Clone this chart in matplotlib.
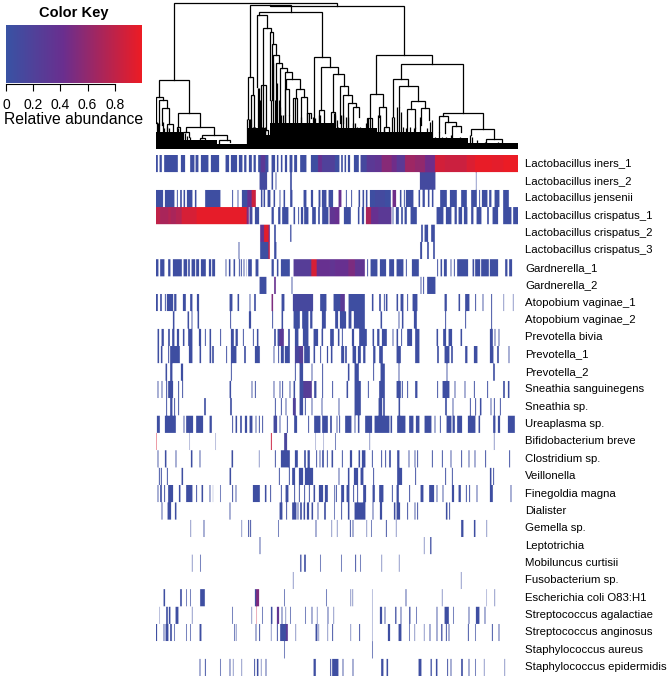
import numpy as np
import matplotlib
matplotlib.use("Agg")
import matplotlib.pyplot as plt
from matplotlib.colors import LinearSegmentedColormap

plt.rcParams['font.family'] = ['Liberation Sans', 'DejaVu Sans']

# --- Row labels ---
taxa = ["Lactobacillus iners_1", "Lactobacillus iners_2", "Lactobacillus jensenii",
        "Lactobacillus crispatus_1", "Lactobacillus crispatus_2", "Lactobacillus crispatus_3",
        "Gardnerella_1", "Gardnerella_2", "Atopobium vaginae_1", "Atopobium vaginae_2",
        "Prevotella bivia", "Prevotella_1", "Prevotella_2", "Sneathia sanguinegens",
        "Sneathia sp.", "Ureaplasma sp.", "Bifidobacterium breve", "Clostridium sp.",
        "Veillonella", "Finegoldia magna", "Dialister", "Gemella sp.", "Leptotrichia",
        "Mobiluncus curtisii", "Fusobacterium sp.", "Escherichia coli O83:H1",
        "Streptococcus agalactiae", "Streptococcus anginosus", "Staphylococcus aureus",
        "Staphylococcus epidermidis"]

# --- Abundance runs per taxon, (first sample, last sample[, abundance]) ---
# two lists: left half of the sample order, right half
low = 0.05
half = 555

iners_1 = ([(18,24),(28,36),(42,84),(92,106),(120,134),(136,146),(152,176),(182,208),(226,238),(242,262),(266,278),(282,290),(296,306),(310,318),(324,332),(332,346,.3),(346,356),(364,376),(380,386),(392,398),(404,412),(418,428),(432,442),(450,470),(482,504),(504,516,.4),(516,555,.2)],
           [(0,14),(18,24),(28,34),(38,46),(56,72),(76,95,.12),(95,120,.3),(120,140,.35),(140,170,.55),(170,185,.45),(185,210,.3),(210,240,.65),(240,270,.6),(270,300,.45),(300,330,.88),(330,395,.85),(395,420,.92),(420,470,.98),(470,505,.96),(505,549,.99)])
iners_2 = ([(328,352,.1),(364,370),(376,380),(420,426)],
           [(254,302,.1),(422,425)])
jensenii = ([(18,40),(44,74),(80,84),(90,96),(100,106),(110,128),(134,140),(165,212),(246,250),(262,266),(275,292),(292,305,.4),(305,318,.85),(332,338),(340,346),(352,362),(370,376),(388,392),(400,406),(420,428),(460,470),(482,490),(505,512),(515,530),(535,550)],
            [(10,20,.4),(32,36),(48,52),(70,76),(82,88),(92,98),(104,120),(120,150,.1),(150,168),(172,184,.45),(194,200),(206,210),(212,236),(250,256),(262,270),(278,284),(290,296),(315,336),(344,366),(378,396),(408,426),(432,436),(440,458),(462,470),(478,494),(504,522)])
crispatus_1 = ([(18,30,.8),(30,55,.7),(55,62,.75),(62,78,.7),(78,95,.75),(95,140,.9),(140,290,.97),(290,297,.5),(298,308,.1),(314,328),(364,372),(384,392),(396,416),(430,436),(444,448),(452,460),(462,476),(486,498),(504,510),(516,536),(538,555,.35)],
               [(0,14,.4),(26,48),(68,74),(80,88),(92,108,.7),(108,130,.4),(130,170,.3),(172,176),(182,192),(198,204),(208,216),(226,246),(304,326),(332,350),(358,366),(370,382),(386,398),(408,416),(424,440),(456,462),(472,490),(504,530),(534,549)])
crispatus_2 = ([(330,342,.35),(342,356,.95),(356,360,.4),(372,378),(420,425)],
               [(258,264),(268,280),(288,300)])
crispatus_3 = ([(265,269),(330,355),(355,360,.8),(372,380)],
               [(255,262),(276,282),(294,300)])
gardnerella_1 = ([(18,26),(30,44),(54,62),(68,96),(100,112),(114,120),(124,136),(138,148),(152,168),(176,184),(186,196),(226,230),(236,242),(250,256),(266,270),(272,276),(280,284),(288,290),(294,306),(316,326),(364,372),(380,386),(392,420),(430,484,.25),(484,500,.9),(500,540,.4),(540,555,.35)],
                 [(0,40,.4),(40,60,.5),(60,90,.35),(96,100),(106,128),(134,154),(162,178),(184,206),(212,216),(230,252),(306,310),(316,322),(326,336),(346,350),(356,360),(366,400),(412,418),(420,436),(438,462),(464,490),(510,518),(522,532)])
gardnerella_2 = ([(328,350),(372,378,.4),(424,428)],
                 [(256,260),(264,268),(276,302)])
atopobium_1 = ([(18,24),(30,36),(44,48),(50,70),(72,80),(98,108),(120,128),(140,148),(238,248),(262,268),(298,302),(312,318),(364,370,.5),(394,404),(428,490,.12),(510,530),(550,555)],
               [(0,16),(16,30,.3),(40,90),(110,116),(132,138),(146,150),(152,158),(184,190),(196,206),(216,220),(232,248),(328,336),(370,376),(390,404),(420,424),(442,446),(468,472),(505,508),(533,536)])
atopobium_2 = ([(68,74),(112,118),(124,128),(142,148),(240,244),(296,304),(366,370),(394,400),(430,450),(456,476),(480,488),(515,528)],
               [(0,10),(14,34),(40,50),(56,90),(136,142),(190,194),(200,206),(236,246),(330,334),(390,394),(468,472)])
prevotella_bivia = ([(22,28),(34,42),(54,60),(66,74),(80,88),(98,104),(114,128),(146,154),(164,168),(178,184),(210,214),(242,252),(256,264),(278,282),(308,312),(320,326),(372,378),(382,388),(388,402,.3),(414,420),(434,446),(458,476),(490,505),(514,520),(540,552)],
                    [(8,14),(20,24),(50,58),(72,96),(112,118),(126,134),(140,156),(172,176),(184,190),(198,202),(216,232),(240,254),(304,310),(324,334),(340,352),(376,382),(464,474),(478,482),(490,494)])
prevotella_1 = ([(22,28),(32,38),(54,58),(60,90),(116,128),(148,154),(178,184),(186,192),(228,232),(242,260),(282,288),(314,330),(370,374),(384,388),(392,402),(404,420),(434,448,.15),(448,460,.25),(462,480),(490,496),(510,514),(530,535),(542,548)],
                [(18,28),(30,36),(52,64),(68,78),(84,92),(114,122),(132,144),(184,198),(240,254),(306,312),(328,344),(348,354),(390,398),(416,428),(464,476),(486,492),(520,524)])
prevotella_2 = ([(46,52),(60,68),(92,100),(242,246),(434,438),(448,460),(484,488),(516,520)],
                [(38,44),(58,72),(114,118),(136,150),(190,194),(334,338),(474,480)])
sneathia_sang = ([(22,26),(34,38),(48,52),(54,70),(84,88),(96,100),(238,244),(304,308),(314,318),(370,374),(388,392),(396,400),(418,422),(430,436),(448,460),(460,486,.25),(492,500),(516,520),(546,550)],
                 [(34,40),(58,78),(98,102),(132,150),(184,198),(200,204),(216,220),(240,248),(306,310),(322,328),(328,344),(358,362),(388,392),(416,420),(456,460),(504,510),(518,524)])
sneathia_sp = ([(48,52),(60,68),(72,76),(84,88),(162,168),(240,246),(374,378),(392,396),(406,410),(428,438,.2),(448,460),(464,468),(484,488),(514,518)],
               [(10,14),(58,78),(130,142),(144,150),(190,196),(330,336),(352,356),(404,408),(420,424),(434,440),(466,470),(476,480),(494,498)])
ureaplasma = ([(20,30),(44,78),(100,104),(108,130),(138,160),(178,186),(246,250),(256,262),(270,276),(284,292),(298,308),(316,320),(326,330),(336,340),(370,382,.1),(388,392),(410,414),(432,442),(474,478),(492,512),(516,534),(540,546)],
              [(4,8),(12,16),(30,50),(58,62),(68,74),(90,112),(118,164),(166,172),(186,212),(222,236),(242,254),(268,290),(298,302),(314,318),(334,350),(352,360),(366,382),(398,422),(430,436),(474,482),(488,496),(518,540)])
bifidobacterium = ([(18,20,.9),(118,120),(196,198),(362,366,.85),(402,412,.15),(496,498),(520,522)],
                   [(0,3),(103,106),(476,479)])
clostridium = ([(22,26),(44,50),(76,80),(122,128),(148,152),(244,250),(326,329),(374,378),(392,420),(434,444),(462,468),(472,480),(498,502),(508,512),(516,522),(530,534),(544,550)],
               [(20,24),(44,52),(70,76),(80,92),(110,114),(138,142),(150,154),(162,168),(186,194),(220,224),(238,242),(246,250),(290,294),(320,324),(346,350),(378,382),(400,404),(418,422),(450,454),(522,526)])
veillonella = ([(26,30),(32,36),(50,54),(94,100),(238,244),(386,390),(416,420),(426,436),(446,460),(464,484),(484,490)],
               [(10,14),(38,44),(56,70),(76,86),(114,118),(186,202),(240,244),(330,334),(350,354),(464,470),(474,478)])
finegoldia = ([(22,26),(30,36),(42,46),(54,70),(86,92),(108,116),(116,128),(138,142),(154,160),(178,182),(188,190),(210,213),(246,250),(256,260),(308,330),(344,350),(360,364),(392,396),(406,416),(432,436),(446,450),(462,466),(476,480),(490,496),(506,520),(524,534),(552,555)],
              [(2,6),(18,28),(34,44),(54,58),(66,70),(84,94),(112,120),(132,146),(170,174),(184,192),(222,226),(256,266),(282,298),(304,308),(322,326),(350,358),(370,378),(392,396),(402,406),(424,428),(464,474),(526,530)])
dialister = ([(34,38),(52,64),(74,80),(238,242),(388,398),(408,412),(426,440),(442,446),(450,456),(460,466),(470,478),(484,490),(502,506),(522,528),(552,555)],
             [(18,22),(38,44),(58,92),(112,116),(134,142),(176,182),(184,196),(216,220),(238,242),(246,250),(332,338),(342,346)])
gemella = ([(121,124),(160,164),(274,277),(294,298),(300,304),(384,387),(496,500),(544,547)],
           [(5,8),(44,48),(52,56),(94,97),(108,111),(152,156),(182,185),(378,386),(416,422),(454,457)])
leptotrichia = ([(328,332)],
                [(266,269),(285,290)])
mobiluncus = ([(125,128),(150,153),(450,455),(462,468),(510,513)],
              [(18,21),(60,64),(75,78),(139,142),(191,194)])
fusobacterium = ([(428,431)],
                 [(377,380)])
escherichia = ([(40,46),(90,96),(108,111),(120,123),(150,160),(160,165),(314,318),(318,328,.5),(402,405),(528,531)],
               [(46,49),(52,55),(111,113),(211,215),(320,323),(454,456),(478,481)])
agalactiae = ([(28,30),(48,54),(56,62),(76,86),(125,128),(246,249),(304,307),(319,321,.85),(336,339),(362,368),(380,388,.35),(394,398),(406,409),(420,423),(465,468),(484,488),(500,503),(532,536),(550,553)],
              [(111,113),(134,142),(148,152),(180,185),(196,200),(222,227),(243,246),(304,308),(328,342),(354,357),(400,404),(422,434),(448,452)])
anginosus = ([(18,22),(40,44),(46,56),(60,66),(72,75),(108,111),(120,123),(148,155),(252,255),(257,260),(316,320),(327,331),(362,365),(380,384),(390,408),(408,414,.3),(436,439),(496,503),(505,508),(532,535),(546,550)],
             [(46,49),(72,76),(111,113),(158,166),(190,200),(222,225),(238,241),(266,269),(283,287),(304,308),(318,323),(332,336),(340,344),(398,402),(420,423),(470,474),(490,494)])
aureus = ([(402,405)],
          [(111,114)])
epidermidis = ([(148,152),(164,168),(210,213),(238,242),(248,251),(274,277),(312,316),(320,326),(332,335),(346,350),(490,498),(540,544),(546,555)],
               [(0,11),(22,26),(52,56),(138,146),(154,160),(250,260),(286,291),(302,308),(336,340),(346,350),(378,384),(400,404),(420,423),(446,449),(508,511)])

rows = [iners_1, iners_2, jensenii, crispatus_1, crispatus_2, crispatus_3, gardnerella_1,
        gardnerella_2, atopobium_1, atopobium_2, prevotella_bivia, prevotella_1, prevotella_2,
        sneathia_sang, sneathia_sp, ureaplasma, bifidobacterium, clostridium, veillonella,
        finegoldia, dialister, gemella, leptotrichia, mobiluncus, fusobacterium, escherichia,
        agalactiae, anginosus, aureus, epidermidis]

# --- Dendrogram merges: left x, right x, merge depth, left child depth, right child depth ---
merges = [(72,560,9,240,17),(360,762,18,16,165),(300,423,16,232,35),(328,517,35,45,170),
          (322,352,45,262,85),(340,362,85,380,95),(360,370,95,300,133),(365,378,133,300,165),
          (370,387,165,300,190),(378,397,190,300,205),(390,412,205,345,215),(404,425,215,345,237),
          (408,450,237,268,267),(404,416,268,400,345),(438,462,267,295,292),(430,442,295,400,375),
          (452,472,292,375,338),(470,482,338,375,355),(491,541,170,375,202),(514,563,202,330,222),
          (506,522,330,400,370),(549,583,222,335,257),(570,595,257,370,285),(580,607,285,370,308),
          (595,618,308,380,322),(610,627,322,380,350),(542,556,335,380,375),
          (27,118,240,290,340),(18,38,290,370,300),(26,50,300,375,325),(36,58,325,375,372),
          (50,68,372,400,400),(84,150,340,382,380),(80,90,382,415,415),(108,193,380,397,406),
          (100,118,397,420,410),(155,230,406,415,420),(150,165,415,425,425),(208,240,420,430,425),
          (295,308,232,358,285),(303,312,285,380,380),(333,347,255,380,390),(345,355,390,420,420),
          (678,846,165,282,192),(659,698,282,354,320),(651,667,354,405,405),(688,708,320,350,382),
          (701,717,382,405,400),(752,940,192,236,338),(730,775,236,350,258),(746,805,258,320,303),
          (783,826,303,327,325),(771,796,327,400,385),(813,838,325,375,360),(880,998,338,348,388),
          (867,895,348,395,365),(885,918,365,400,378),(905,933,378,415,395),(963,1031,388,405,416),
          (1007,1055,416,430,425)]

# depth of the solid mass of leaves along the sample order
mass_x = [18,100,200,290,330,345,360,555,680,845,955,1104]
mass_depth = [395,420,432,385,385,405,370,385,395,415,430,435]

# clusters too small to resolve: x and depth where their stems start
stem_x = [20,24,28,38,42,46,52,56,66,70,84,92,104,112,120,130,144,150,
          292,296,300,304,310,314,324,327,330,335,340,344,348,352,
          362,370,374,378,382,386,390,394,400,404,412,418,424,430,436,440,446,452,458,464,470,476,482,488,494,500,506,510,516,522,530,540,546,552,
          555,561,565,573,579,589,595,601,609,615,621,629,635,647,653,659,665,673,685,691,701,709,717,727,733,741,747,753,759,767,773,781,791,795,801,811,819,831,839,845,855,867,875,889,903,913,931,941,959,967,981,1005,1025,1045,1065,1085]
stem_depth = [365,370,370,365,385,395,380,385,400,405,385,410,400,408,412,420,425,418,
              358,358,358,358,380,380,265,265,300,380,380,380,405,415,
              300,190,300,300,250,300,320,345,345,345,370,345,385,385,295,375,375,350,375,372,340,340,375,350,355,380,345,345,375,370,390,370,370,340,
              345,360,380,345,345,350,350,385,370,370,380,380,390,370,355,355,400,415,345,345,385,400,405,350,350,320,320,335,380,385,400,380,385,380,395,350,400,385,365,360,410,395,410,410,405,415,410,415,405,412,420,425,428,425,428,432]

# --- Colour scale ---
cmap = LinearSegmentedColormap.from_list("key", [(0, "#3953A4"), (0.42, "#6A2F8F"), (1, "#ED1C24")])
cmap.set_bad((1, 1, 1, 0))

W, H = 672, 680
fig = plt.figure(figsize=(W/100, H/100), dpi=100)


def px_axes(x0, y0, x1, y1):
    return fig.add_axes([x0/W, 1 - y1/H, (x1 - x0)/W, (y1 - y0)/H])


# --- Heatmap ---
abund = np.full((len(taxa), 1104 - 18), np.nan)
for r, (left, right) in enumerate(rows):
    for offset, runs in ((0, left), (half, right)):
        for run in runs:
            v = run[2] if len(run) > 2 else low
            abund[r, run[0] + offset - 18:run[1] + offset - 18] = v

ax = px_axes(156, 155, 518, 676)
ax.imshow(np.repeat(abund, 17, axis=0), cmap=cmap, vmin=0, vmax=1, aspect="auto",
          extent=[18, 1104, len(taxa) - 0.5, -0.5],
          interpolation="hanning", interpolation_stage="rgba")
ax.axis("off")
for r, name in enumerate(taxa):
    ax.annotate(name, (1, r), xycoords=("axes fraction", "data"), xytext=(5.2, 0.8),
                textcoords="offset points", va="center_baseline", ha="left", fontsize=8.2)

# --- Column dendrogram ---
dn = px_axes(156, 0, 518, 149)
dn.fill_between(mass_x, mass_depth, 447, step="post", color="black", linewidth=0)
dn.vlines(stem_x, stem_depth, 447, color="black", lw=0.9)
for x0, x1, d, d0, d1 in merges:
    dn.plot([x0, x0, x1, x1], [d0, d, d, d1], color="black", lw=0.9, solid_joinstyle="miter")
dn.set_xlim(18, 1104)
dn.set_ylim(447, 0)
dn.axis("off")

# --- Color key ---
key = px_axes(6, 25, 142, 83)
grad = np.linspace(0, 1, 256).reshape(1, -1)
key.imshow(grad, aspect="auto", cmap=cmap, extent=[0, 1, 0, 1])
key.set_yticks([])
key.set_xticks([0, 0.2, 0.4, 0.6, 0.8])
key.set_xticklabels(["0", "0.2", "0.4", "0.6", "0.8"], fontsize=7.8)
key.tick_params(axis="x", length=5, width=0.8, pad=5)
for side in key.spines.values():
    side.set_visible(False)
key.spines["bottom"].set_visible(True)
key.spines["bottom"].set_linewidth(0.8)
key.spines["bottom"].set_bounds(0, 0.8)
key.spines["bottom"].set_position(("outward", 1))
key.set_xlabel("Relative abundance", fontsize=11.3, labelpad=0)
key.set_title("Color Key", fontsize=10.5, fontweight="bold", pad=6)

fig.savefig("out.png", dpi=100)
